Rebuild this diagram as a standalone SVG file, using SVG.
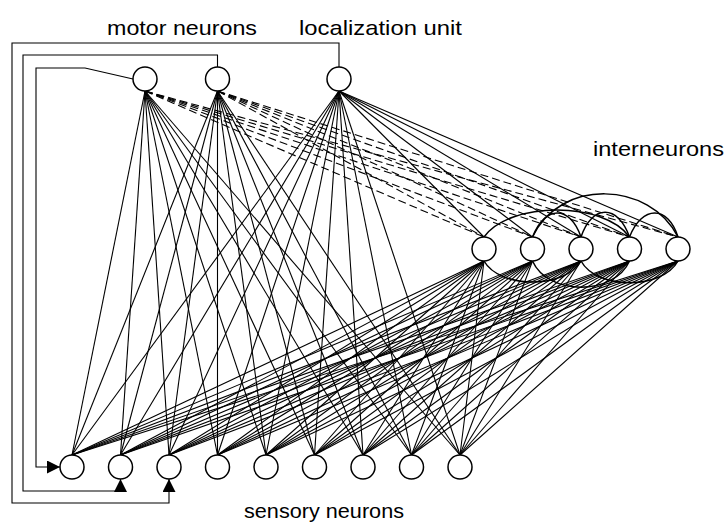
<svg xmlns="http://www.w3.org/2000/svg" width="726" height="525" viewBox="0 0 726 525">
<style>
.n{fill:#fff;stroke:#000;stroke-width:1.5}
.c line,.c path,.c polyline{stroke:#000;stroke-width:1.1;fill:none}
.c .d{stroke-dasharray:8 4}
.c .a{stroke-width:1.5}
text{font-family:"Liberation Sans",Arial,sans-serif;font-size:21px;fill:#000}
</style>
<defs>
<marker id="ar" viewBox="0 0 13 13" refX="13" refY="6.5" markerWidth="13" markerHeight="13" markerUnits="userSpaceOnUse" orient="auto"><path d="M0,0L13,6.5L0,13z" fill="#000"/></marker>
</defs>
<rect width="726" height="525" fill="#fff"/>
<g id="connectors" class="c">
<!-- feedback -->
<polyline points="133,79 85,68 36,68 36,467 60,467" marker-end="url(#ar)"/>
<polyline points="217.5,67 217.5,55 23,55 23,491 120.5,491 120.5,479" marker-end="url(#ar)"/>
<polyline points="339,67 339,43 12,43 12,503 169,503 169,479" marker-end="url(#ar)"/>
<!-- motor 1 to sensory -->
<line x1="145" y1="91" x2="72" y2="455"/><line x1="145" y1="91" x2="120.5" y2="455"/><line x1="145" y1="91" x2="169" y2="455"/><line x1="145" y1="91" x2="217.5" y2="455"/><line x1="145" y1="91" x2="266" y2="455"/><line x1="145" y1="91" x2="314.5" y2="455"/><line x1="145" y1="91" x2="363" y2="455"/><line x1="145" y1="91" x2="411.5" y2="455"/><line x1="145" y1="91" x2="460" y2="455"/>
<!-- motor 2 to sensory -->
<line x1="217.5" y1="91" x2="72" y2="455"/><line x1="217.5" y1="91" x2="120.5" y2="455"/><line x1="217.5" y1="91" x2="169" y2="455"/><line x1="217.5" y1="91" x2="217.5" y2="455"/><line x1="217.5" y1="91" x2="266" y2="455"/><line x1="217.5" y1="91" x2="314.5" y2="455"/><line x1="217.5" y1="91" x2="363" y2="455"/><line x1="217.5" y1="91" x2="411.5" y2="455"/><line x1="217.5" y1="91" x2="460" y2="455"/>
<!-- localization to sensory -->
<line x1="339" y1="91" x2="72" y2="455"/><line x1="339" y1="91" x2="120.5" y2="455"/><line x1="339" y1="91" x2="169" y2="455"/><line x1="339" y1="91" x2="217.5" y2="455"/><line x1="339" y1="91" x2="266" y2="455"/><line x1="339" y1="91" x2="314.5" y2="455"/><line x1="339" y1="91" x2="363" y2="455"/><line x1="339" y1="91" x2="411.5" y2="455"/><line x1="339" y1="91" x2="460" y2="455"/>
<!-- localization to interneurons -->
<line x1="339" y1="91" x2="484" y2="237"/><line x1="339" y1="91" x2="532.5" y2="237"/><line x1="339" y1="91" x2="581" y2="237"/><line x1="339" y1="91" x2="629.5" y2="237"/><line x1="339" y1="91" x2="678" y2="237"/>
<!-- motors to interneurons dashed -->
<line class="d" x1="145" y1="91" x2="484" y2="237"/><line class="d" x1="145" y1="91" x2="532.5" y2="237"/><line class="d" x1="145" y1="91" x2="581" y2="237"/><line class="d" x1="145" y1="91" x2="629.5" y2="237"/><line class="d" x1="145" y1="91" x2="678" y2="237"/>
<line class="d" x1="217.5" y1="91" x2="484" y2="237"/><line class="d" x1="217.5" y1="91" x2="532.5" y2="237"/><line class="d" x1="217.5" y1="91" x2="581" y2="237"/><line class="d" x1="217.5" y1="91" x2="629.5" y2="237"/><line class="d" x1="217.5" y1="91" x2="678" y2="237"/>
<!-- interneurons to sensory -->
<line x1="484" y1="261" x2="72" y2="455"/><line x1="484" y1="261" x2="120.5" y2="455"/><line x1="484" y1="261" x2="169" y2="455"/><line x1="484" y1="261" x2="217.5" y2="455"/><line x1="484" y1="261" x2="266" y2="455"/><line x1="484" y1="261" x2="314.5" y2="455"/><line x1="484" y1="261" x2="363" y2="455"/><line x1="484" y1="261" x2="411.5" y2="455"/><line x1="484" y1="261" x2="460" y2="455"/>
<line x1="532.5" y1="261" x2="72" y2="455"/><line x1="532.5" y1="261" x2="120.5" y2="455"/><line x1="532.5" y1="261" x2="169" y2="455"/><line x1="532.5" y1="261" x2="217.5" y2="455"/><line x1="532.5" y1="261" x2="266" y2="455"/><line x1="532.5" y1="261" x2="314.5" y2="455"/><line x1="532.5" y1="261" x2="363" y2="455"/><line x1="532.5" y1="261" x2="411.5" y2="455"/><line x1="532.5" y1="261" x2="460" y2="455"/>
<line x1="581" y1="261" x2="72" y2="455"/><line x1="581" y1="261" x2="120.5" y2="455"/><line x1="581" y1="261" x2="169" y2="455"/><line x1="581" y1="261" x2="217.5" y2="455"/><line x1="581" y1="261" x2="266" y2="455"/><line x1="581" y1="261" x2="314.5" y2="455"/><line x1="581" y1="261" x2="363" y2="455"/><line x1="581" y1="261" x2="411.5" y2="455"/><line x1="581" y1="261" x2="460" y2="455"/>
<line x1="629.5" y1="261" x2="72" y2="455"/><line x1="629.5" y1="261" x2="120.5" y2="455"/><line x1="629.5" y1="261" x2="169" y2="455"/><line x1="629.5" y1="261" x2="217.5" y2="455"/><line x1="629.5" y1="261" x2="266" y2="455"/><line x1="629.5" y1="261" x2="314.5" y2="455"/><line x1="629.5" y1="261" x2="363" y2="455"/><line x1="629.5" y1="261" x2="411.5" y2="455"/><line x1="629.5" y1="261" x2="460" y2="455"/>
<line x1="678" y1="261" x2="72" y2="455"/><line x1="678" y1="261" x2="120.5" y2="455"/><line x1="678" y1="261" x2="169" y2="455"/><line x1="678" y1="261" x2="217.5" y2="455"/><line x1="678" y1="261" x2="266" y2="455"/><line x1="678" y1="261" x2="314.5" y2="455"/><line x1="678" y1="261" x2="363" y2="455"/><line x1="678" y1="261" x2="411.5" y2="455"/><line x1="678" y1="261" x2="460" y2="455"/>
<!-- recurrent arcs -->
<path class="a" d="M484,237 C510,201 604,201 629.5,237"/>
<path class="a" d="M532.5,237 C560,178 650,181 678,237"/>
<path class="a" d="M532.5,237 C545,205 570,205 581,237"/>
<path class="a" d="M581,237 C592,204 618,204 629.5,237"/>
<path class="a" d="M629.5,237 C642,205 668,205 678,237"/>
<path class="a" d="M484,261 C500,289 565,289 581,261"/>
<path class="a" d="M532.5,261 C548,296 614,296 629.5,261"/>
<path class="a" d="M581,261 C597,290 662,290 678,261"/>
</g>
<g id="motor1"><circle class="n" cx="145" cy="79" r="12"/></g>
<g id="motor2"><circle class="n" cx="217.5" cy="79" r="12"/></g>
<g id="localization"><circle class="n" cx="339" cy="79" r="12"/></g>
<g id="inter1"><circle class="n" cx="484" cy="249" r="12"/></g>
<g id="inter2"><circle class="n" cx="532.5" cy="249" r="12"/></g>
<g id="inter3"><circle class="n" cx="581" cy="249" r="12"/></g>
<g id="inter4"><circle class="n" cx="629.5" cy="249" r="12"/></g>
<g id="inter5"><circle class="n" cx="678" cy="249" r="12"/></g>
<g id="sensory1"><circle class="n" cx="72" cy="467" r="12"/></g>
<g id="sensory2"><circle class="n" cx="120.5" cy="467" r="12"/></g>
<g id="sensory3"><circle class="n" cx="169" cy="467" r="12"/></g>
<g id="sensory4"><circle class="n" cx="217.5" cy="467" r="12"/></g>
<g id="sensory5"><circle class="n" cx="266" cy="467" r="12"/></g>
<g id="sensory6"><circle class="n" cx="314.5" cy="467" r="12"/></g>
<g id="sensory7"><circle class="n" cx="363" cy="467" r="12"/></g>
<g id="sensory8"><circle class="n" cx="411.5" cy="467" r="12"/></g>
<g id="sensory9"><circle class="n" cx="460" cy="467" r="12"/></g>
<g id="labels">
<text x="107" y="35" textLength="150" lengthAdjust="spacingAndGlyphs">motor neurons</text>
<text x="299" y="35" textLength="163" lengthAdjust="spacingAndGlyphs">localization unit</text>
<text x="593" y="156" textLength="131" lengthAdjust="spacingAndGlyphs">interneurons</text>
<text x="244" y="518" textLength="160" lengthAdjust="spacingAndGlyphs">sensory neurons</text>
</g>
</svg>
